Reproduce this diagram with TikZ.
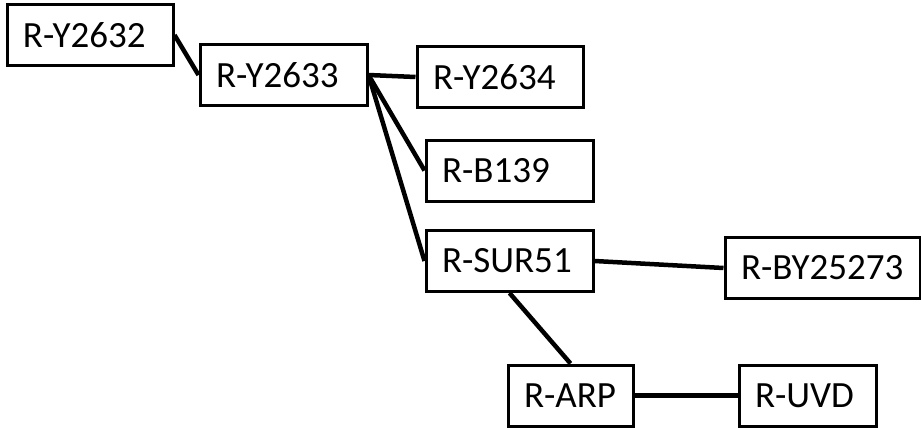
\documentclass[tikz,border=0pt]{standalone}
\usepackage{fontspec}
\setmainfont{Carlito}
\usetikzlibrary{positioning}

\begin{document}
\begin{tikzpicture}[
      x=1pt, y=-1pt,
      haplo/.style={rectangle, draw, line width=3pt, inner xsep=16pt, minimum height=61pt,
        align=left, font=\fontsize{37pt}{41pt}\selectfont},
      link/.style={line width=4.5pt}
    ]
    \useasboundingbox (0,0) rectangle (921,428);

    % Upper chain
    \node[haplo, text width=134pt] (y2632) at (90,35) {\mbox{R-Y2632}};
    \node[haplo, text width=135pt] (y2633) at (283.5,75) {\mbox{R-Y2633}};

    % Children of R-Y2633
    \node[haplo, text width=134pt] (y2634) at (500,77) {\mbox{R-Y2634}};
    \node[haplo, text width=135pt] (b139) at (509.5,170.5) {\mbox{R-B139}};
    \node[haplo, text width=135pt] (sur51) at (509.5,261) {\mbox{R-SUR51}};

    % Lower branches
    \node[haplo, text width=163pt] (by25273) at (822.5,268) {\mbox{R-BY25273}};
    \node[haplo, text width=93pt] (arp) at (570.5,395.5) {\mbox{R-ARP}};
    \node[haplo, text width=105pt] (uvd) at (807.5,395.5) {\mbox{R-UVD}};

    % Links
    \draw[link] (y2632.east) -- (y2633.west);
    \draw[link] (y2633.east) -- (y2634.west);
    \draw[link] (y2633.east) -- (b139.west);
    \draw[link] (y2633.east) -- (sur51.west);
    \draw[link] (sur51.east) -- (by25273.west);
    \draw[link] (sur51.south) -- (arp.north);
    \draw[link] (arp.east) -- (uvd.west);

  \end{tikzpicture}
\end{document}
